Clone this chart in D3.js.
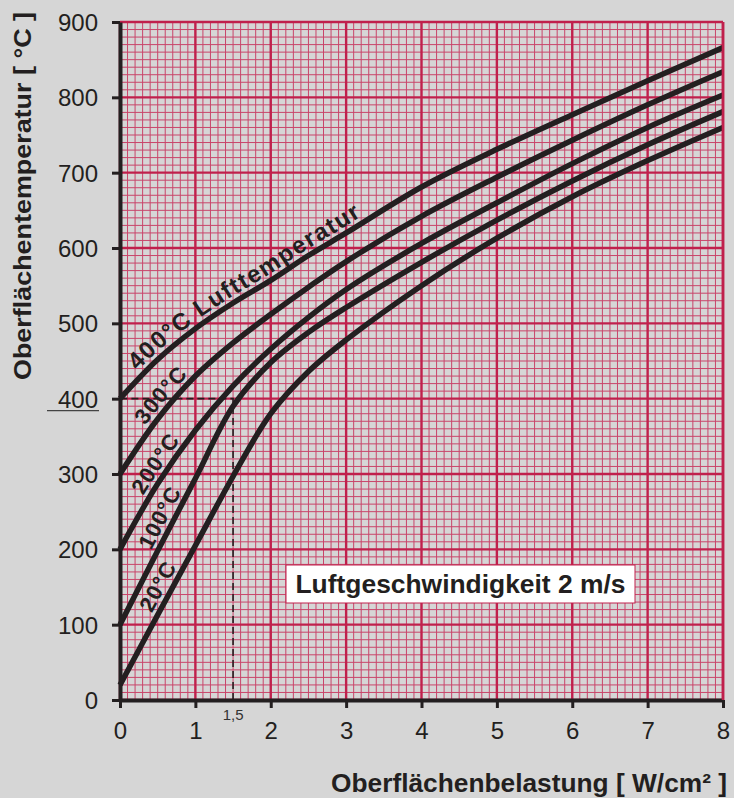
<!DOCTYPE html>
<html><head><meta charset="utf-8">
<script src="https://cdn.jsdelivr.net/npm/d3@7/dist/d3.min.js"></script>
<style>
body{margin:0;background:#d6d6d6;}
svg{display:block;font-family:"Liberation Sans",Arial,Helvetica,sans-serif;}
</style></head><body>
<svg id="c" width="734" height="798"></svg>
<script>
// ---- data ----
const loadX = [0, 0.5, 1, 1.5, 2, 2.5, 3, 4, 5, 6, 7, 8];
const t400 = [400, 452, 493, 527, 557, 590, 620, 681, 731, 777, 822, 866];
const t300 = [300, 373, 430, 474, 512, 548, 582, 642, 694, 743, 790, 834];
const t200 = [200, 287, 358, 417, 466, 508, 545, 606, 660, 712, 760, 803];
const t100 = [100, 198, 294, 390, 448, 488, 521, 581, 637, 689, 737, 781];
const t20  = [20, 113, 205, 297, 380, 436, 478, 550, 613, 668, 716, 760];
const curveNames = ["400°C Lufttemperatur", "300°C", "200°C", "100°C", "20°C"];
const labelStartX = [0.23, 0.33, 0.3, 0.4, 0.42];
const xTicks = [0, 1, 2, 3, 4, 5, 6, 7, 8];
const yTicks = [0, 100, 200, 300, 400, 500, 600, 700, 800, 900];
const markX = 1.5, markY = 400, markLabel = "1,5";
const xTitle = "Oberflächenbelastung [ W/cm² ]";
const yTitle = "Oberflächentemperatur [ °C ]";
const noteText = "Luftgeschwindigkeit 2 m/s";

const series = [t400, t300, t200, t100, t20];

const svg = d3.select("#c");
const x = d3.scaleLinear().domain([0, 8]).range([120, 723]);
const y = d3.scaleLinear().domain([0, 900]).range([700, 22]);

svg.append("rect").attr("width", 734).attr("height", 798).attr("fill", "#d6d6d6");

// ---- grid ----
const grid = svg.append("g");
const minorX = d3.range(0, 81).map(i => i / 10).filter(v => Math.abs(v - Math.round(v)) > 1e-6);
const minorY = d3.range(0, 91).map(i => i * 10).filter(v => v % 100 !== 0);
grid.selectAll(".mx").data(minorX).join("line")
  .attr("x1", d => x(d)).attr("x2", d => x(d)).attr("y1", y(0)).attr("y2", y(900))
  .attr("stroke", "#c9456a").attr("stroke-width", 1);
grid.selectAll(".my").data(minorY).join("line")
  .attr("y1", d => y(d)).attr("y2", d => y(d)).attr("x1", x(0)).attr("x2", x(8))
  .attr("stroke", "#c9456a").attr("stroke-width", 1);
grid.selectAll(".Mx").data(xTicks).join("line")
  .attr("x1", d => x(d)).attr("x2", d => x(d)).attr("y1", y(0)).attr("y2", y(900))
  .attr("stroke", "#c0204c").attr("stroke-width", 2.4);
grid.selectAll(".My").data(yTicks).join("line")
  .attr("y1", d => y(d)).attr("y2", d => y(d)).attr("x1", x(0)).attr("x2", x(8))
  .attr("stroke", "#c0204c").attr("stroke-width", 2.4);

// ---- axes ----
const ax = svg.append("g").attr("transform", `translate(0,${y(0)})`)
  .call(d3.axisBottom(x).tickValues(xTicks).tickSize(8).tickSizeOuter(0).tickPadding(14));
const ay = svg.append("g").attr("transform", `translate(${x(0)},0)`)
  .call(d3.axisLeft(y).tickValues(yTicks).tickSize(8).tickSizeOuter(0).tickPadding(14));
[ax, ay].forEach(a => {
  a.select(".domain").attr("stroke", "#231f20").attr("stroke-width", 4);
  a.selectAll(".tick line").attr("stroke", "#231f20").attr("stroke-width", 3);
  a.selectAll(".tick text").attr("fill", "#231f20").attr("font-size", 24)
    .attr("font-family", "'Liberation Sans',Arial,sans-serif");
});
ay.selectAll(".tick text").attr("dy", "0.36em");
ax.selectAll(".tick text").attr("dy", "0.72em");

// underline below "400"
svg.append("line").attr("x1", 47).attr("x2", 99).attr("y1", y(400) + 12).attr("y2", y(400) + 12)
  .attr("stroke", "#444").attr("stroke-width", 1.2);

// ---- dashed marker ----
svg.append("path")
  .attr("d", `M${x(markX)},${y(0)}V${y(markY)}H${x(0)}`)
  .attr("fill", "none").attr("stroke", "#231f20").attr("stroke-width", 1.6)
  .attr("stroke-dasharray", "7,4");
svg.append("text").attr("x", x(markX)).attr("y", y(0) + 20).attr("text-anchor", "middle")
  .attr("font-size", 15).attr("fill", "#333").text(markLabel);

// ---- curves ----
const line = d3.line().x(d => x(d[0])).y(d => y(d[1])).curve(d3.curveCatmullRom.alpha(0.5));
const defs = svg.append("defs");
const curvesG = svg.append("g");
series.forEach((s, i) => {
  const pts = loadX.map((v, j) => [v, s[j]]);
  const p = curvesG.append("path").attr("d", line(pts))
    .attr("fill", "none").attr("stroke", "#231f20").attr("stroke-width", 5.5)
    .attr("stroke-linecap", "butt");
  const node = p.node();
  const L = node.getTotalLength();
  const off = 6;
  const opts = [];
  for (let l = 0; l <= L; l += 2) {
    const a = node.getPointAtLength(Math.max(0, l - 1));
    const b = node.getPointAtLength(Math.min(L, l + 1));
    const c = node.getPointAtLength(l);
    let tx = b.x - a.x, ty = b.y - a.y;
    const n = Math.hypot(tx, ty) || 1;
    tx /= n; ty /= n;
    opts.push([c.x + ty * off, c.y - tx * off]);
  }
  const od = "M" + opts.map(q => q[0].toFixed(2) + "," + q[1].toFixed(2)).join("L");
  defs.append("path").attr("id", "lp" + i).attr("d", od);
  let acc = 0, start = 0;
  for (let k = 1; k < opts.length; k++) {
    acc += Math.hypot(opts[k][0] - opts[k - 1][0], opts[k][1] - opts[k - 1][1]);
    if (opts[k][0] >= x(labelStartX[i])) { start = acc; break; }
  }
  svg.append("text").attr("font-size", i === 0 ? 24 : 22).attr("font-weight", "bold").attr("fill", "#231f20")
    .attr("letter-spacing", i === 0 ? 1.5 : 1.2)
    .append("textPath").attr("href", "#lp" + i).attr("startOffset", start).text(curveNames[i]);
});

// right border
svg.append("line").attr("x1", x(8)).attr("x2", x(8)).attr("y1", y(0)).attr("y2", y(900))
  .attr("stroke", "#c0204c").attr("stroke-width", 2.6);

// ---- note box ----
const ng = svg.append("g");
ng.append("rect").attr("x", 286).attr("y", 565).attr("width", 349).attr("height", 38)
  .attr("fill", "#fff").attr("stroke", "#c0204c").attr("stroke-width", 1);
ng.append("text").attr("x", 286 + 349 / 2).attr("y", 593).attr("text-anchor", "middle")
  .attr("font-size", 26).attr("font-weight", "bold").attr("fill", "#231f20")
  .attr("textLength", 330).attr("lengthAdjust", "spacingAndGlyphs").text(noteText);

// ---- titles ----
svg.append("text").attr("x", 727).attr("y", 792).attr("text-anchor", "end")
  .attr("font-size", 25).attr("font-weight", "bold").attr("fill", "#231f20")
  .attr("textLength", 396).attr("lengthAdjust", "spacingAndGlyphs").text(xTitle);
svg.append("text").attr("transform", "translate(31,380) rotate(-90)").attr("text-anchor", "start")
  .attr("font-size", 24).attr("font-weight", "bold").attr("fill", "#231f20")
  .attr("textLength", 368).attr("lengthAdjust", "spacingAndGlyphs").text(yTitle);
</script></body></html>
